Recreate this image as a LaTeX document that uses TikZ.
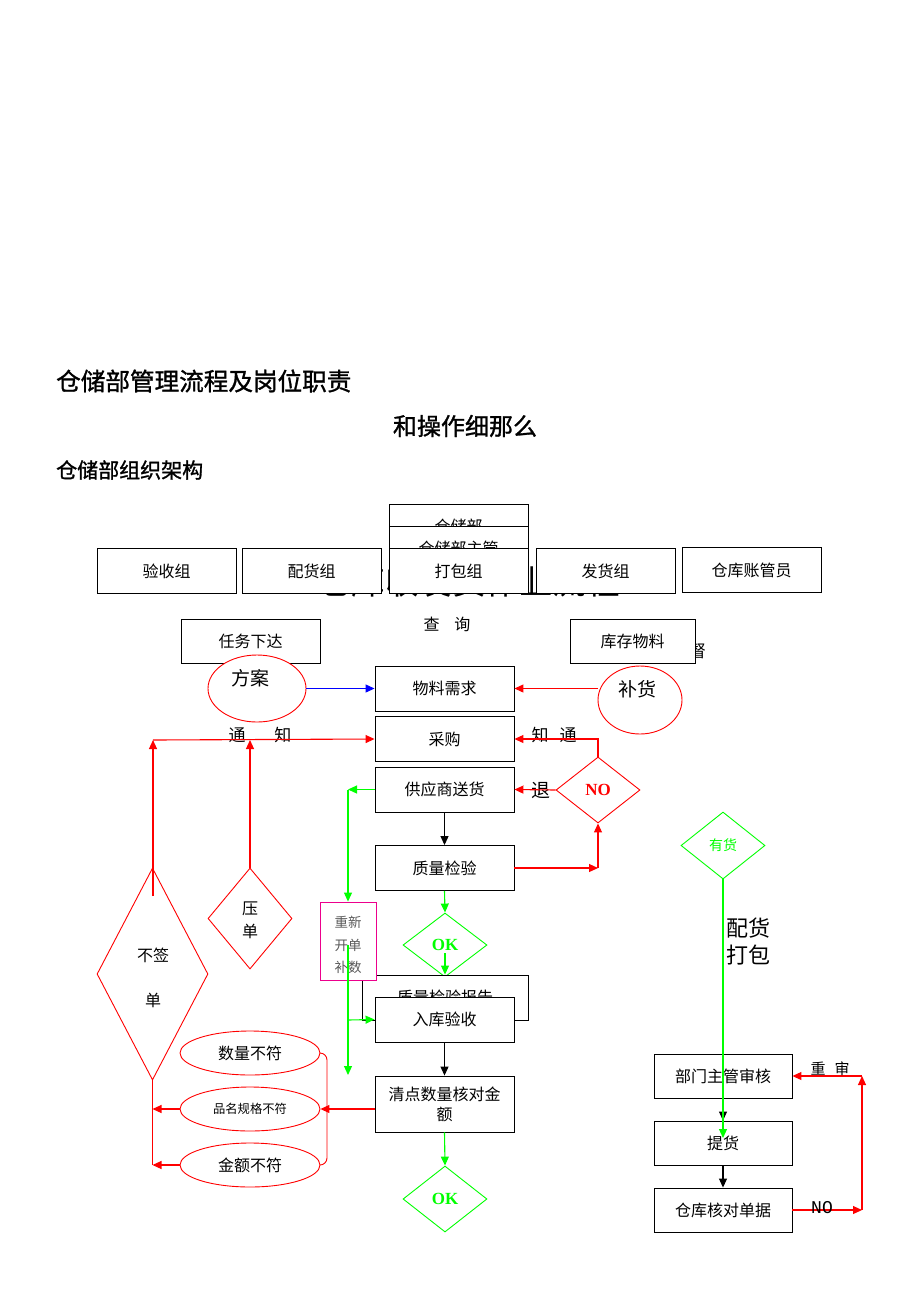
\documentclass[tikz,border=0pt]{standalone}
\usepackage{fontspec}
\setmainfont{Liberation Serif}
\setmonofont{Liberation Mono}
\newfontfamily\cjk{Noto Sans CJK SC}
\newfontfamily\cjkt[FakeBold=1.2]{Noto Sans CJK SC}
\usetikzlibrary{arrows.meta,shapes.geometric}
\newcommand{\fs}[1]{\fontsize{#1}{#1}\selectfont}
\begin{document}
\begin{tikzpicture}[x=1pt,y=-1pt,
  box/.style={draw=black,line width=0.9pt,fill=white,minimum width=139pt,minimum height=45pt,inner sep=0pt,font=\cjk\fs{16}},
  txt/.style={inner sep=0pt,font=\cjk\fs{16}},
  arr/.style={line width=1.1pt,-{Triangle[length=9pt,width=8pt]}},
  ln/.style={line width=1.1pt},
  rdia/.style={diamond,draw=red,line width=0.9pt,fill=white,inner sep=0pt,aspect=1},
  gdia/.style={diamond,draw=green,line width=0.9pt,fill=white,inner sep=0pt,aspect=1},
  rell/.style={ellipse,draw=red,line width=0.9pt,fill=white,inner sep=0pt}]
\useasboundingbox[fill=white] (0,0) rectangle (920,1302);

% titles
\node[txt,anchor=west,font=\cjkt\fs{24.6}] (t1) at (56,381) {仓储部管理流程及岗位职责};
\node[txt,font=\cjkt\fs{24}] (t2) at (465,426) {和操作细那么};
\node[txt,anchor=west,font=\cjkt\fs{21}] (t3) at (56,470) {仓储部组织架构};
\node[txt,font=\cjk\fs{33.5}] (t4) at (469,582) {仓库收发货作业流程};

% organisation boxes
\node[box] (ysz) at (166.5,571) {验收组};
\node[box] (phz) at (311.5,571) {配货组};
\node[box] (fhz) at (605.5,571) {发货组};
\node[box] (zgy) at (751.5,570) {仓库账管员};
\node[box] (ccb) at (458.5,526.5) {仓储部};
\node[box] (cczg) at (458.5,548.5) {仓储部主管};
\node[box] (dbz) at (458.5,571) {打包组};

% upper flow
\node[txt] (cx) at (447,624) {查\hspace{15pt}询};
\node[txt,font=\cjk\fs{17}] (jd) at (689,651) {监督};
\node[box,minimum width=139pt,minimum height=44pt] (rwxd) at (250.5,641) {任务下达};
\node[box,minimum width=125pt,minimum height=44pt] (kcwl) at (632.5,641) {库存物料};

\node[rell,minimum width=98pt,minimum height=67pt] (fa) at (257,688.5) {};
\node[txt,font=\cjk\fs{19}] (fat) at (250,678) {方案};
\node[rell,minimum width=84pt,minimum height=68pt] (bh) at (640,700) {};
\node[txt,font=\cjk\fs{19}] (bht) at (637,689) {补货};

\node[box] (wlxq) at (444.5,688.5) {物料需求};
\node[box] (cg) at (444.5,739) {采购};
\node[box] (gys) at (444.5,789.5) {供应商送货};
\node[box] (zljy) at (444.5,868) {质量检验};

\node[txt,font=\cjk\fs{17}] (tz1) at (260,735) {通\hspace{29pt}知};
\node[txt,font=\cjk\fs{17}] (tz2) at (554,735) {知\hspace{11pt}通};
\node[txt,font=\cjk\fs{19}] (tui) at (541,790) {退};

\node[rdia,minimum width=84pt,minimum height=66pt,text=red,font=\bfseries\fs{17}] (no) at (598,790) {NO};

\draw[blue,arr] (fa.east) -- (wlxq.west);
\draw[red,arr] (wlxq.east -| bh.west) -- (wlxq.east);
\draw[red,arr] (no.north) |- (cg.east);
\draw[red,arr] (no.west) -- (gys.east);
\draw[arr] (gys.south) -- (zljy.north);
\coordinate (nb) at (zljy.east -| no.south);
\draw[red,arr] (zljy.east) -- (nb);
\draw[red,arr] (nb) -- (no.south);

% left side
\node[rdia,minimum width=111pt,minimum height=212pt] (bqd) at (152.5,974) {};
\node[txt,align=center,font=\cjk\fs{16}] (bqdt) at (153,978) {不签\\[29pt]单};
\node[rdia,minimum width=84pt,minimum height=101pt] (yd) at (250,918.5) {};
\node[txt,align=center,font=\cjk\fs{16}] (ydt) at (250,920) {压\\[7pt]单};
\coordinate (n1) at (153,740);
\coordinate (bqin) at (153,896);
\draw[red,arr] (n1) -- (cg.west);
\draw[red,arr] (bqin) -- (n1);
\draw[red,arr] (yd.north) -- (yd.north |- n1);

% OK diamond and reports
\node[gdia,minimum width=84pt,minimum height=64pt,text=green,font=\bfseries\fs{17}] (ok1) at (445,945) {OK};
\draw[green,arr] (zljy.south) -- (ok1.north);
\node[box,minimum width=166pt] (bg) at (445,997.5) {质量检验报告};
\coordinate (okc) at (445,953);
\draw[green,arr] (okc) -- (bg.north);
\node[draw=magenta,line width=0.9pt,fill=white,minimum width=56pt,minimum height=78pt,inner sep=0pt] (pk) at (348,941) {};
\node[txt,align=center,text=black!65,font=\cjk\fs{13.5}] (pkt) at (348,945) {重新\\[9pt]开单\\[9pt]补数};
\node[box] (rk) at (444.5,1019.5) {入库验收};
\node[box,minimum height=56pt,align=center] (qd) at (444.5,1104) {清点数量核对金\\[4pt]额};
\node[gdia,minimum width=84pt,minimum height=66pt,text=green,font=\bfseries\fs{17}] (ok2) at (445,1199) {OK};
\draw[arr] (rk.south) -- (qd.north);
\draw[green,arr] (qd.south) -- (ok2.north);

\coordinate (gy) at (gys.west -| pk.north);
\draw[green,arr] (gys.west) -- (gy);
\draw[green,arr] (gy) -- (pk.north);
\coordinate (g1) at (348,945);
\coordinate (g2) at (348,1075);
\coordinate (g3) at (348,1020);
\draw[green,arr] (g1) -- (g2);
\draw[green,arr] (g3) -- (rk.west);

% mismatch ellipses
\node[rell,minimum width=140pt,minimum height=44pt,font=\cjk\fs{16}] (e1) at (250,1053) {数量不符};
\node[rell,minimum width=140pt,minimum height=44pt,font=\cjk\fs{12.3}] (e2) at (250,1109) {品名规格不符};
\node[rell,minimum width=140pt,minimum height=44pt,font=\cjk\fs{16}] (e3) at (250,1165) {金额不符};
\coordinate (br) at (327,1109);
\draw[red,line width=0.9pt,rounded corners=7pt] (e1.east) -| (br) |- (e3.east);
\draw[red,arr] (qd.west |- e2.east) -- (e2.east);
\draw[red,ln] (bqd.south) -- (bqd.south |- e3.west);
\draw[red,arr] (e2.west) -- (e2.west -| bqd.south);
\draw[red,arr] (e3.west) -- (e3.west -| bqd.south);

% right side
\node[gdia,minimum width=84pt,minimum height=67pt,text=green,font=\cjk\fs{14}] (yh) at (723,845.5) {有货};
\node[txt,align=left,font=\cjk\fs{22}] (phdb) at (748,942) {配货\\[5pt]打包};
\node[box,minimum width=138pt,minimum height=44pt] (bm) at (723,1076) {部门主管审核};
\node[box,minimum width=138pt,minimum height=44pt] (th) at (723,1143) {提货};
\node[box,minimum width=138pt,minimum height=44pt] (hd) at (723,1210) {仓库核对单据};
\draw[arr] (bm.south) -- (th.north);
\draw[arr] (th.south) -- (hd.north);
\coordinate (gh) at (723,1138);
\draw[green,arr] (yh.south) -- (gh);
\coordinate (r1) at (862,1210);
\coordinate (r2) at (862,1076);
\draw[red,arr] (hd.east) -- (r1);
\draw[red,arr] (r1) -- (r2);
\draw[red,arr] (r2) -- (bm.east);
\node[txt,font=\ttfamily\fs{18}] (not) at (822,1208) {NO};
\node[txt,font=\cjk\fs{15}] (cs) at (830,1069) {重\hspace{9pt}审};
\end{tikzpicture}
\end{document}
